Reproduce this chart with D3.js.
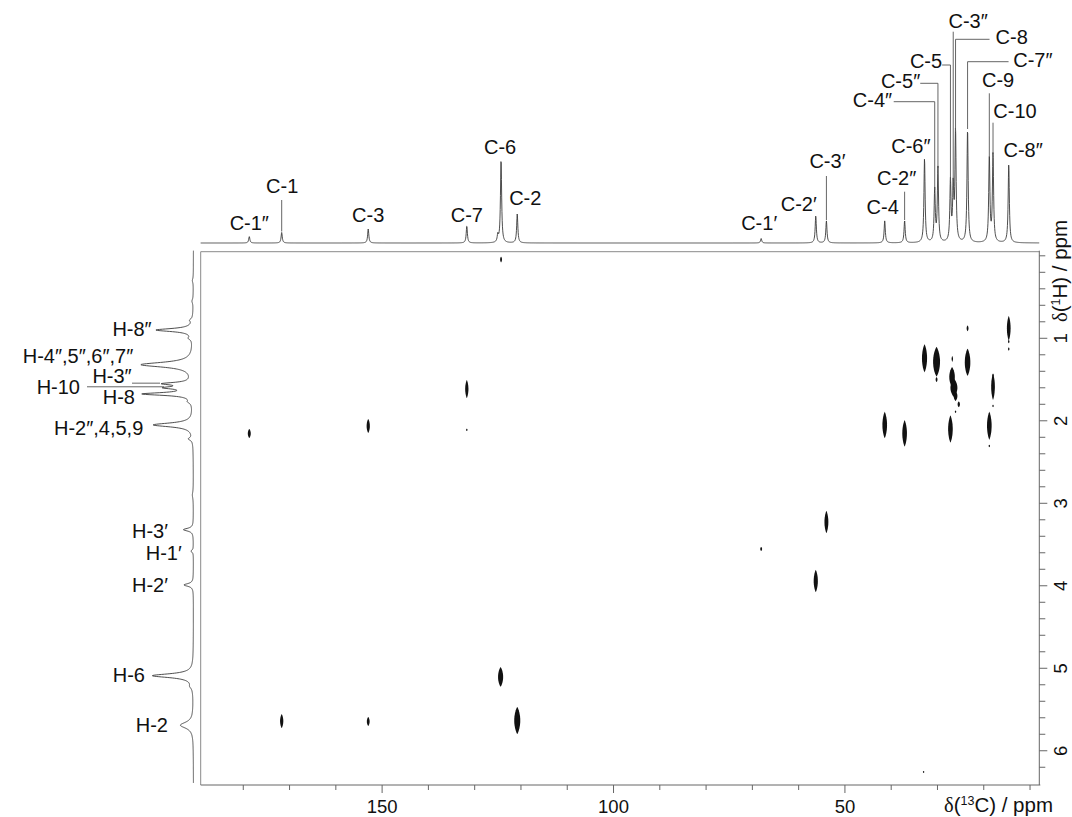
<!DOCTYPE html>
<html><head><meta charset="utf-8">
<script src="https://cdn.jsdelivr.net/npm/d3@7"></script>
<style>
body{margin:0;background:#fff}
svg{display:block}
text{font-family:"Liberation Sans",Arial,Helvetica,sans-serif;fill:#111}
</style>
</head><body>
<svg id="c" width="1072" height="817"></svg>
<script>
// ---------------- DATA ----------------
// 13C projection (top trace): peak labels, shifts (ppm), relative intensities
const carbonLabels = ["C-1″","C-1","C-3","C-7","","C-6","C-2","C-1′","C-2′","C-3′","C-4","C-2″","C-6″","C-4″","C-5″","C-5","C-3″","C-8","C-7″","C-9","C-10","C-8″"];
const carbonPpm    = [178.7,171.7,153.0,131.7,125.0,124.3,120.8,68.1,56.3,54.0,41.4,37.1,32.8,30.6,29.9,27.2,26.6,26.1,23.5,18.8,18.0,14.6];
const carbonInt    = [6.5,10.5,14,17,7,83,29,4.5,27,22,22,22,84,52,74,60,52,110,113,86,88,78];

// 1H projection (left trace): shifts (ppm), relative intensities, half widths (ppm)
const protonPpm   = [0.30,0.55,0.78,0.90,1.00,1.32,1.55,1.60,1.675,1.77,2.05,2.22,2.90,3.32,3.58,3.99,5.09,5.22,5.69];
const protonInt   = [1.0,1.2,2.5,37,3,52,27,24,49,3,40,4,1,10,2.5,9.5,41,2,13];
const protonWidth = [0.03,0.03,0.02,0.022,0.02,0.035,0.018,0.018,0.02,0.02,0.028,0.02,0.05,0.02,0.015,0.02,0.028,0.03,0.045];
const protonLabels = ["H-8″","H-4″,5″,6″,7″","H-3″","H-10","H-8","H-2″,4,5,9","H-3′","H-1′","H-2′","H-6","H-2"];
const protonLabelPpm = [0.90,1.32,1.55,1.60,1.675,2.05,3.32,3.58,3.99,5.09,5.69];

// 2D cross peaks: 13C shift, 1H shift, half-width in 13C (ppm), half-height in 1H (ppm)
const crossC  = [124.3,178.7,153.0,131.7,131.7,124.4,120.8,171.7,153.0,68.1,54.0,56.3,33.0,
                 41.4,37.1,32.8,30.2,30.2,26.85,26.45,26.1,25.4,26.1,26.8,23.5,23.5,27.2,18.0,18.0,18.0,18.8,18.8,14.6,14.6,14.6];
const crossH  = [0.045,2.154,2.063,1.615,2.11,5.105,5.633,5.64,5.645,3.554,3.227,3.942,6.257,
                 2.051,2.152,1.242,1.284,1.50,1.469,1.60,1.70,1.80,1.89,1.25,1.291,0.879,2.10,1.587,1.82,1.45,2.06,2.305,0.879,1.04,1.13];
const crossWC = [0.2,0.32,0.35,0.35,0.15,0.55,0.65,0.35,0.3,0.2,0.42,0.45,0.15,
                 0.5,0.5,0.55,0.75,0.2,0.6,0.75,0.4,0.25,0.15,0.15,0.6,0.2,0.5,0.4,0.15,0.15,0.5,0.15,0.4,0.15,0.15];
const crossWH = [0.035,0.055,0.085,0.11,0.015,0.12,0.165,0.085,0.055,0.025,0.135,0.135,0.012,
                 0.16,0.16,0.17,0.18,0.03,0.12,0.11,0.06,0.035,0.015,0.035,0.165,0.035,0.165,0.16,0.015,0.02,0.17,0.015,0.15,0.02,0.02];

// axis ticks
const cTicksMajor = [150,100,50];
const cTicksMinor = [180,170,160,140,130,120,110,90,80,70,60,40,30,20,10];
const hTicksMajor = [1,2,3,4,5,6];

// ---------------- LAYOUT ----------------
const svg = d3.select("#c");
const plot = {l:200.7, r:1039.3, t:251.7, b:785};
const x = d3.scaleLinear().domain([189.2, 8.0]).range([plot.l, plot.r]);
const y = d3.scaleLinear().domain([-0.0497, 6.415]).range([plot.t, plot.b]);
const yTop = d3.scaleLinear().domain([0,100]).range([243,143]);     // top trace intensity
const xLeft = d3.scaleLinear().domain([0,100]).range([193.5,93.5]); // left trace intensity

// ---------------- TOP TRACE ----------------
const gTop = 0.15;
const topPts = [];
for (let px = plot.l; px <= plot.r; px += 0.25) {
  const p = x.invert(px);
  let s = 0;
  carbonPpm.forEach((c,i)=>{ const d=p-c; s += carbonInt[i]*gTop*gTop/(d*d+gTop*gTop); });
  topPts.push([p, s]);
}
svg.append("path")
  .attr("d", d3.line().x(d=>x(d[0])).y(d=>yTop(d[1]))(topPts))
  .attr("fill","none").attr("stroke","#3a3a3a").attr("stroke-width",0.9);

// ---------------- LEFT TRACE ----------------
const leftPts = [];
for (let py = plot.t-1; py <= plot.b-2; py += 0.25) {
  const h = y.invert(py);
  let s = 0;
  protonPpm.forEach((c,i)=>{ const d=h-c, w=protonWidth[i]; s += protonInt[i]*w*w/(d*d+w*w); });
  leftPts.push([h, s]);
}
svg.append("path")
  .attr("d", d3.line().x(d=>xLeft(d[1])).y(d=>y(d[0]))(leftPts))
  .attr("fill","none").attr("stroke","#3a3a3a").attr("stroke-width",0.9);

// ---------------- FRAME & AXES ----------------
const frame = svg.append("g").attr("stroke","#8a8a8a").attr("stroke-width",1).attr("fill","none");
frame.append("line").attr("x1",plot.l).attr("x2",plot.r).attr("y1",plot.t).attr("y2",plot.t);
frame.append("line").attr("x1",plot.l).attr("x2",plot.l).attr("y1",plot.t).attr("y2",plot.b);
const axc = "#666";
svg.append("line").attr("x1",plot.l).attr("x2",plot.r+1).attr("y1",plot.b).attr("y2",plot.b).attr("stroke",axc);
svg.append("line").attr("x1",plot.r).attr("x2",plot.r).attr("y1",plot.t-1).attr("y2",plot.b).attr("stroke",axc);

// bottom ticks
cTicksMinor.forEach(v=>{
  svg.append("line").attr("x1",x(v)).attr("x2",x(v)).attr("y1",plot.b).attr("y2",plot.b+5).attr("stroke",axc);
});
cTicksMajor.forEach(v=>{
  svg.append("line").attr("x1",x(v)).attr("x2",x(v)).attr("y1",plot.b).attr("y2",plot.b+8).attr("stroke",axc);
  svg.append("text").attr("x",x(v)).attr("y",812.5).attr("text-anchor","middle").attr("font-size",18.5).text(v);
});
// right ticks (every 0.2 ppm)
d3.range(0, 32).forEach(i=>{
  const v = i*0.2;
  const major = Math.abs(v - Math.round(v)) < 1e-6 && Math.round(v) > 0;
  svg.append("line").attr("x1",plot.r).attr("x2",plot.r+(major?8:6)).attr("y1",y(v)).attr("y2",y(v)).attr("stroke",axc);
});
hTicksMajor.forEach(v=>{
  svg.append("text").attr("transform",`translate(1066.5,${y(v)}) rotate(-90)`)
    .attr("text-anchor","middle").attr("font-size",18.5).text(v);
});

// axis titles
const tx = svg.append("text").attr("x",944).attr("y",811.5).attr("font-size",20.5);
tx.append("tspan").attr("font-family","Liberation Serif, Times New Roman, serif").text("δ");
tx.append("tspan").text("(");
tx.append("tspan").attr("font-size",12.5).attr("dy",-7).text("13");
tx.append("tspan").attr("dy",7).text("C) / ppm");

const ty = svg.append("text").attr("transform","translate(1066.5,322) rotate(-90)").attr("font-size",20.5);
ty.append("tspan").attr("font-family","Liberation Serif, Times New Roman, serif").text("δ");
ty.append("tspan").text("(");
ty.append("tspan").attr("font-size",12.5).attr("dy",-7).text("1");
ty.append("tspan").attr("dy",7).text("H) / ppm");

// ---------------- CROSS PEAKS ----------------
function spindle(cx, cy, rx, ry){
  const pts=[];
  for (let i=0;i<60;i++){
    const t=i/60*2*Math.PI, c=Math.cos(t), s=Math.sin(t);
    pts.push([cx + rx*Math.sign(c)*Math.pow(Math.abs(c),1.7), cy + ry*s]);
  }
  return d3.line()(pts)+"Z";
}
const gc = svg.append("g").attr("fill","#111");
crossC.forEach((c,i)=>{
  const cx = x(c), cy = y(crossH[i]);
  const rx = Math.max(0.6, Math.abs(x(c+crossWC[i]) - cx));
  const ry = Math.max(0.6, y(crossH[i]+crossWH[i]) - cy);
  gc.append("path").attr("d", spindle(cx, cy, rx, ry));
});

// ---------------- TOP LABELS ----------------
const topLayout = {
  "C-1″":{a:"middle",dx:0,y:230},
  "C-1":{a:"middle",dx:0.5,y:193,lead:[200]},
  "C-3":{a:"middle",dx:0,y:221.5},
  "C-7":{a:"middle",dx:0,y:221.5},
  "C-6":{a:"middle",dx:-1,y:154},
  "C-2":{a:"middle",dx:8,y:205},
  "C-1′":{a:"middle",dx:-2,y:230},
  "C-2′":{a:"middle",dx:-17,y:210.5},
  "C-3′":{a:"middle",dx:1,y:168,lead:[176]},
  "C-4":{a:"middle",dx:-2,y:214},
  "C-2″":{a:"middle",dx:-8,y:185,lead:[191.7]},
  "C-6″":{a:"end",dx:6,y:152.7},
  "C-4″":{a:"end",dx:-42.6,y:106.7,elbow:[101.7,-41]},
  "C-5″":{a:"end",dx:-17.7,y:88.3,elbow:[83.3,-17.7]},
  "C-5":{a:"end",dx:-8.3,y:68.3,elbow:[65,-8.3]},
  "C-3″":{a:"start",dx:-4.7,y:28.3,lead:[31.7]},
  "C-8":{a:"start",dx:40,y:44.3,elbow:[39.3,34]},
  "C-7″":{a:"start",dx:45.7,y:66.7,elbow:[61.7,41]},
  "C-9":{a:"start",dx:-7.3,y:87.3,lead:[93.3]},
  "C-10":{a:"start",dx:0.3,y:118.3,lead:[122.7]},
  "C-8″":{a:"start",dx:-5.3,y:156.7}
};
const gl = svg.append("g");
const leadG = svg.append("g").attr("stroke","#555").attr("stroke-width",0.9).attr("fill","none");
carbonLabels.forEach((lab,i)=>{
  if(!lab) return;
  const L = topLayout[lab]; const X = x(carbonPpm[i]);
  gl.append("text").attr("x",X+L.dx).attr("y",L.y).attr("text-anchor",L.a).attr("font-size",20).text(lab);
  const tipY = yTop(carbonInt[i]) - 1;
  if (L.lead) leadG.append("path").attr("d", d3.line()([[X,L.lead[0]],[X,tipY]]));
  if (L.elbow) leadG.append("path").attr("d", d3.line()([[X+L.elbow[1],L.elbow[0]],[X,L.elbow[0]],[X,tipY]]));
});

// ---------------- LEFT LABELS ----------------
const leftLayout = [
  {ex:151.7,dy:6},{ex:133.3,dy:-2},{ex:131.7,dy:-0.5},{ex:80,dy:6},{ex:135,dy:10},
  {ex:143.3,dy:10},{ex:168,dy:8.6},{ex:181.7,dy:8.8},{ex:168,dy:6.7},{ex:145,dy:6},{ex:168,dy:6.5}
];
protonLabels.forEach((lab,i)=>{
  const L = leftLayout[i];
  gl.append("text").attr("x",L.ex).attr("y",y(protonLabelPpm[i])+L.dy).attr("text-anchor","end").attr("font-size",20).text(lab);
});
// leaders for the H-3″ / H-10 / H-8 group
const yH3 = y(protonLabelPpm[2]), yH10 = y(protonLabelPpm[3]);
leadG.append("path").attr("d", d3.line()([[132,yH3-0.5],[160,yH3-0.5]]));
leadG.append("path").attr("d", d3.line()([[87,yH10-1],[164,yH10-1]]));
</script>
</body></html>
